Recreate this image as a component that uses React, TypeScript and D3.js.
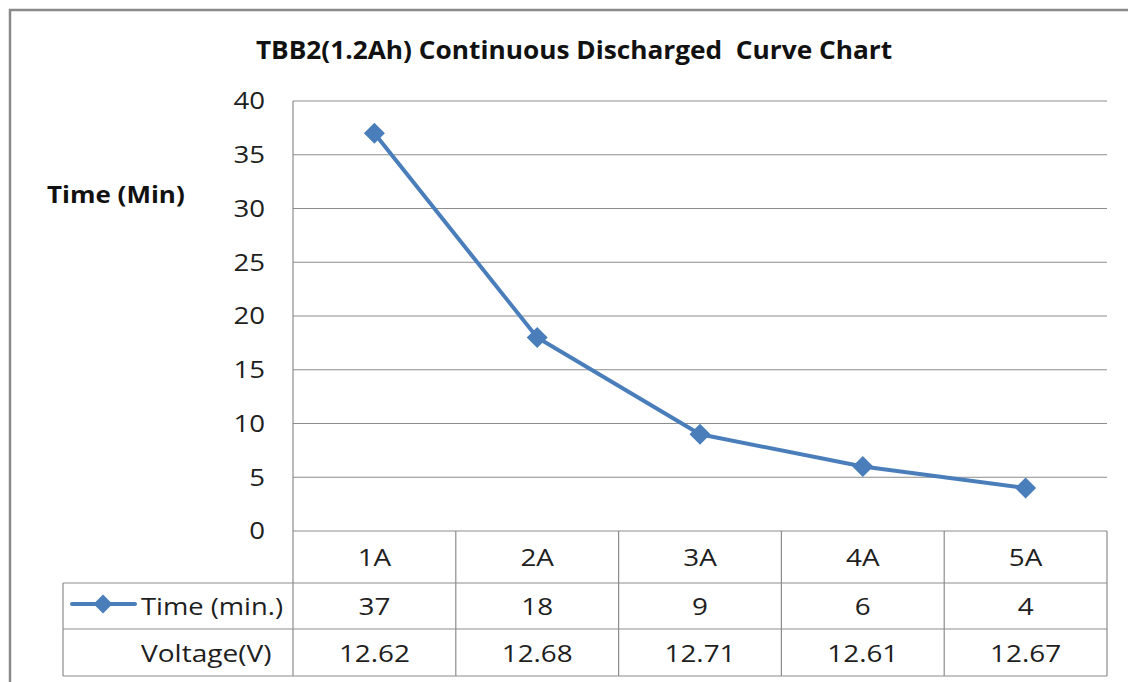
import React from "react";
import * as d3 from "d3";

const categories = ["1A", "2A", "3A", "4A", "5A"];
const timeValues = [37, 18, 9, 6, 4];
const voltageValues = ["12.62", "12.68", "12.71", "12.61", "12.67"];
const yTicks = [0, 5, 10, 15, 20, 25, 30, 35, 40];
const titleText = "TBB2(1.2Ah) Continuous Discharged\u00a0 Curve Chart";
const yLabel = "Time (Min)";
const seriesName = "Time (min.)";
const voltageName = "Voltage(V)";

const W = 1128;
const H = 682;
const plotL = 293;
const plotR = 1107;
const plotT = 101;
const plotB = 531;
const row1B = 583;
const row2B = 629;
const row3B = 676;
const tableL = 63;
const blue = "#4A7EBB";
const grid = "#8C8C8C";
const font = "'Open Sans', 'Noto Sans', sans-serif";

type TProps = {
  x: number;
  y: number;
  sx?: number;
  size: number;
  anchor?: "start" | "middle" | "end";
  bold?: boolean;
  dy?: string;
  children: React.ReactNode;
};

function T({ x, y, sx = 1.16, size, anchor = "start", bold = false, dy, children }: TProps) {
  return (
    <text
      transform={`translate(${x},${y}) scale(${sx},1)`}
      textAnchor={anchor}
      fontSize={size}
      fontWeight={bold ? "bold" : "normal"}
      fill={bold ? "#111" : "#1e1e1e"}
      dy={dy}
    >
      {children}
    </text>
  );
}

export default function App() {
  const x = d3.scaleBand<string>().domain(categories).range([plotL, plotR]);
  const y = d3.scaleLinear().domain([0, 40]).range([plotB, plotT]);
  const cx = (c: string) => (x(c) as number) + x.bandwidth() / 2;
  const line = d3
    .line<number>()
    .x((_, i) => cx(categories[i]))
    .y((d) => y(d));
  const diamond = (px: number, py: number, r: number) =>
    `M${px},${py - r}L${px + r},${py}L${px},${py + r}L${px - r},${py}Z`;

  return (
    <svg
      width={W}
      height={H}
      style={{ position: "absolute", left: 0, top: 0, background: "#fff" }}
      fontFamily={font}
    >
      <rect x={0} y={0} width={W} height={H} fill="#fff" />
      <rect x={10} y={10} width={1300} height={900} fill="none" stroke="#8A8A8A" strokeWidth={2.5} />
      <T x={574} y={59} size={25} bold anchor="middle" sx={1.05}>
        {titleText}
      </T>
      <T x={47} y={203} size={23} bold sx={1.13}>
        {yLabel}
      </T>
      {yTicks.map((t) => (
        <g key={t}>
          {t > 0 && (
            <line x1={plotL} x2={plotR} y1={y(t)} y2={y(t)} stroke={grid} strokeWidth={1} />
          )}
          <T x={265} y={y(t)} dy="0.36em" anchor="end" size={23} sx={1.2}>
            {t}
          </T>
        </g>
      ))}
      <line x1={plotL} x2={plotL} y1={plotT} y2={row3B} stroke={grid} strokeWidth={1.2} />
      <line x1={plotL} x2={plotR} y1={plotB} y2={plotB} stroke={grid} strokeWidth={1.2} />
      {[row1B, row2B, row3B].map((yy) => (
        <line key={yy} x1={tableL} x2={plotR} y1={yy} y2={yy} stroke={grid} strokeWidth={1.2} />
      ))}
      <line x1={tableL} x2={tableL} y1={row1B} y2={row3B} stroke={grid} strokeWidth={1.2} />
      {categories.map((c) => (
        <line
          key={c}
          x1={(x(c) as number) + x.bandwidth()}
          x2={(x(c) as number) + x.bandwidth()}
          y1={plotB}
          y2={row3B}
          stroke={grid}
          strokeWidth={1.2}
        />
      ))}
      {categories.map((c, i) => (
        <g key={c}>
          <T x={cx(c)} y={566} size={24} anchor="middle">{c}</T>
          <T x={cx(c)} y={615} size={24} anchor="middle">{timeValues[i]}</T>
          <T x={cx(c)} y={662} size={24} anchor="middle">{voltageValues[i]}</T>
        </g>
      ))}
      <line x1={72} x2={135} y1={604} y2={604} stroke={blue} strokeWidth={4} strokeLinecap="round" />
      <path d={diamond(103, 604, 9.5)} fill={blue} />
      <T x={141} y={615} size={24} sx={1.14}>{seriesName}</T>
      <T x={141} y={662} size={24} sx={1.17}>{voltageName}</T>
      <path d={line(timeValues) || ""} fill="none" stroke={blue} strokeWidth={4} strokeLinejoin="round" />
      {timeValues.map((v, i) => (
        <path key={i} d={diamond(cx(categories[i]), y(v), 10.5)} fill={blue} />
      ))}
    </svg>
  );
}
